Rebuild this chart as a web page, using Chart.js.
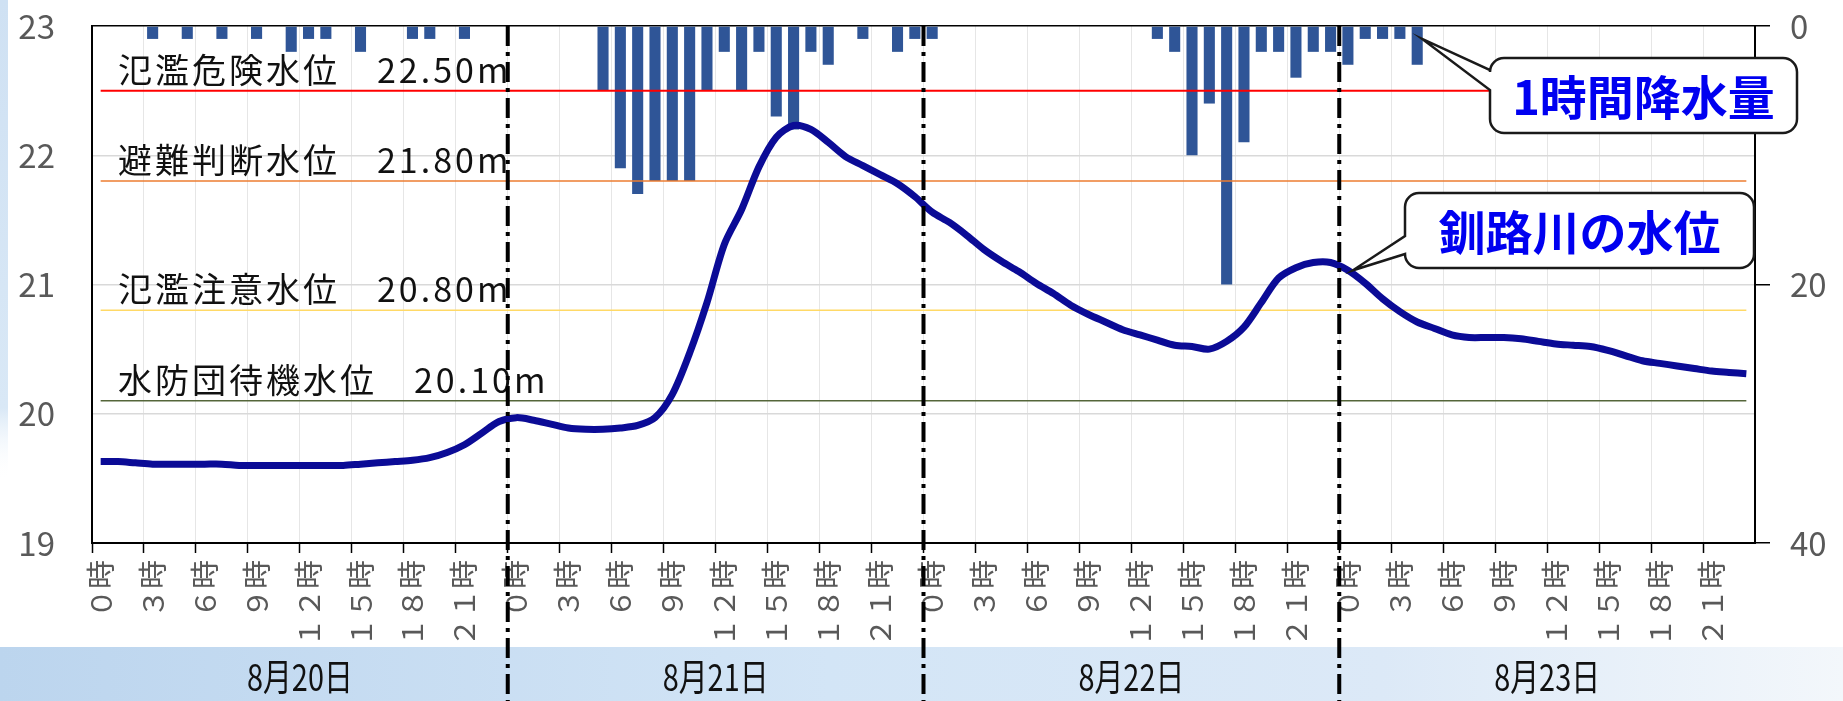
<!DOCTYPE html>
<html lang="ja">
<head>
<meta charset="utf-8">
<title>釧路川の水位と1時間降水量</title>
<script src="https://cdn.jsdelivr.net/npm/chart.js@4.4.1/dist/chart.umd.min.js"></script>
<style>
  html, body { margin: 0; padding: 0; background: #fff; }
  #wrap { width: 1843px; height: 701px; position: relative; }
</style>
</head>
<body>
<div id="wrap"><canvas id="chart" width="1843" height="701"></canvas></div>
<script>
// 日付 (4日間, 1時間ごと)
const days = ['8月20日', '8月21日', '8月22日', '8月23日'];

// 1時間降水量 (mm) 0時〜23時
const rain0820 = [0, 0, 0, 1, 0, 1, 0, 1, 0, 1, 0, 2, 1, 1, 0, 2, 0, 0, 1, 1, 0, 1, 0, 0];
const rain0821 = [0, 0, 0, 0, 0, 5, 11, 13, 12, 12, 12, 5, 2, 5, 2, 7, 8, 2, 3, 0, 1, 0, 2, 1];
const rain0822 = [1, 0, 0, 0, 0, 0, 0, 0, 0, 0, 0, 0, 0, 1, 2, 10, 6, 20, 9, 2, 2, 4, 2, 2];
const rain0823 = [3, 1, 1, 1, 3, 0, 0, 0, 0, 0, 0, 0, 0, 0, 0, 0, 0, 0, 0, 0, 0, 0, 0, 0];

// 釧路川の水位 (m) 0時〜23時
const level0820 = [19.63, 19.63, 19.62, 19.61, 19.61, 19.61, 19.61, 19.61, 19.60, 19.60, 19.60, 19.60,
                   19.60, 19.60, 19.60, 19.61, 19.62, 19.63, 19.64, 19.66, 19.70, 19.76, 19.85, 19.94];
const level0821 = [19.97, 19.95, 19.92, 19.89, 19.88, 19.88, 19.89, 19.91, 19.97, 20.15, 20.47, 20.86,
                   21.31, 21.58, 21.91, 22.14, 22.23, 22.20, 22.10, 21.99, 21.92, 21.85, 21.78, 21.68];
const level0822 = [21.56, 21.48, 21.38, 21.27, 21.18, 21.10, 21.01, 20.93, 20.84, 20.77, 20.71, 20.65,
                   20.61, 20.57, 20.53, 20.52, 20.50, 20.56, 20.67, 20.86, 21.05, 21.13, 21.17, 21.17];
const level0823 = [21.11, 21.01, 20.89, 20.79, 20.71, 20.66, 20.61, 20.59, 20.59, 20.59, 20.58, 20.56,
                   20.54, 20.53, 20.52, 20.49, 20.45, 20.41, 20.39, 20.37, 20.35, 20.33, 20.32, 20.31];

// 基準水位
const thresholdNames = ['氾濫危険水位', '避難判断水位', '氾濫注意水位', '水防団待機水位'];
const thresholdValues = [22.50, 21.80, 20.80, 20.10];
const thresholdColors = ['#ff0000', '#ed7d31', '#ffd966', '#55663a'];

// 軸の範囲
const levelMin = 19, levelMax = 23, levelStep = 1;
const rainMin = 0, rainMax = 40, rainStep = 20;

// build tables for the library
const rain = rain0820.concat(rain0821, rain0822, rain0823).map(v => v || null);
const level = level0820.concat(level0821, level0822, level0823);
// hour labels every 3 hours; the original uses wide (full-width) digits
const wide = s => String(s).replace(/[0-9]/g, c => String.fromCharCode(c.charCodeAt(0) + 0xFEE0));
const hourLabels = days.flatMap(() => Array.from({ length: 24 }, (_, h) => h % 3 === 0 ? wide(h) + '時' : ''));

const FONT = '"Noto Sans CJK JP", "Noto Sans", sans-serif';
Chart.defaults.font.family = FONT;

const thresholdSets = thresholdValues.map((v, k) => ({
    type: 'line',
    label: thresholdNames[k],
    data: hourLabels.map(() => v),
    borderColor: thresholdColors[k],
    borderWidth: k === 0 ? 2 : 1.5,
    pointRadius: 0,
    yAxisID: 'y',
    order: 1
}));

// background, day labels and dividers, threshold labels, callouts
const decorations = {
    id: 'decorations',
    beforeDraw(chart) {
        const { ctx, width, height } = chart;
        ctx.save();
        ctx.fillStyle = '#ffffff';
        ctx.fillRect(0, 0, width, height);
        // left strip of the slide background
        let g = ctx.createLinearGradient(0, 0, 0, 480);
        g.addColorStop(0, '#cfe1f3');
        g.addColorStop(0.85, '#d9e8f6');
        g.addColorStop(1, 'rgba(255,255,255,0)');
        ctx.fillStyle = g;
        ctx.fillRect(0, 0, 8, 480);
        // bottom band
        g = ctx.createLinearGradient(0, 0, width, 0);
        g.addColorStop(0, '#bcd5ee');
        g.addColorStop(0.45, '#d3e5f6');
        g.addColorStop(0.75, '#dce9f7');
        g.addColorStop(1, '#f3f7fb');
        ctx.fillStyle = g;
        ctx.fillRect(0, 647, width, height - 647);
        ctx.restore();
    },
    afterDraw(chart) {
        const { ctx, chartArea, height } = chart;
        const xs = chart.scales.x, xd = chart.scales.xDay, ys = chart.scales.y, y2 = chart.scales.y2;
        ctx.save();

        // threshold labels
        ctx.font = '34px ' + FONT;
        ctx.fillStyle = '#111111';
        ctx.textAlign = 'left';
        ctx.textBaseline = 'alphabetic';
        if ('letterSpacing' in ctx) ctx.letterSpacing = '3px';
        thresholdValues.forEach((v, k) => {
            ctx.fillText(thresholdNames[k] + '\u3000' + v.toFixed(2) + 'm', chartArea.left + 26, ys.getPixelForValue(v) - 8);
        });
        if ('letterSpacing' in ctx) ctx.letterSpacing = '0px';

        // day labels (narrow lettering as in the original)
        ctx.font = '37px ' + FONT;
        ctx.textAlign = 'center';
        ctx.textBaseline = 'middle';
        days.forEach((d, i) => {
            ctx.save();
            ctx.translate(xd.getPixelForValue(i), xd.top + 32);
            ctx.scale(0.78, 1);
            ctx.fillText(d, 0, 0);
            ctx.restore();
        });

        // day dividers (dash-dot)
        ctx.strokeStyle = '#000000';
        ctx.lineWidth = 4;
        ctx.setLineDash([20, 6, 4, 6]);
        for (let d = 1; d < days.length; d++) {
            const i = d * 24;
            const x = (xs.getPixelForValue(i - 1) + xs.getPixelForValue(i)) / 2;
            ctx.beginPath();
            ctx.moveTo(x, chartArea.top);
            ctx.lineTo(x, height);
            ctx.stroke();
        }
        ctx.setLineDash([]);

        // callouts
        const rainTip = { x: xs.getPixelForValue(76) + 5, y: y2.getPixelForValue(1) };
        const levelTip = { x: xs.getPixelForValue(72) + 5, y: ys.getPixelForValue(level[72]) };
        drawCallout(ctx, { x: 1490, y: 58, w: 307, h: 75 }, rainTip, 70, 90, '1時間降水量');
        drawCallout(ctx, { x: 1405, y: 193, w: 349, h: 75 }, levelTip, 236, 254, '釧路川の水位');
        ctx.restore();
    }
};

function drawCallout(ctx, b, tip, baseTop, baseBottom, text) {
    const r = 14;
    ctx.beginPath();
    ctx.moveTo(b.x + r, b.y);
    ctx.lineTo(b.x + b.w - r, b.y);
    ctx.arcTo(b.x + b.w, b.y, b.x + b.w, b.y + r, r);
    ctx.lineTo(b.x + b.w, b.y + b.h - r);
    ctx.arcTo(b.x + b.w, b.y + b.h, b.x + b.w - r, b.y + b.h, r);
    ctx.lineTo(b.x + r, b.y + b.h);
    ctx.arcTo(b.x, b.y + b.h, b.x, b.y + b.h - r, r);
    ctx.lineTo(b.x, baseBottom);
    ctx.lineTo(tip.x, tip.y);
    ctx.lineTo(b.x, baseTop);
    ctx.lineTo(b.x, b.y + r);
    ctx.arcTo(b.x, b.y, b.x + r, b.y, r);
    ctx.closePath();
    ctx.fillStyle = '#ffffff';
    ctx.fill();
    ctx.lineWidth = 2.5;
    ctx.strokeStyle = '#1a1a1a';
    ctx.stroke();
    ctx.font = 'bold 47px ' + FONT;
    ctx.fillStyle = '#0000f0';
    ctx.textAlign = 'center';
    ctx.textBaseline = 'middle';
    ctx.fillText(text, b.x + b.w / 2, b.y + b.h / 2 + 2);
}

// keep the plot box fixed: no extra room for tick label overhang
const noPad = s => { s.paddingTop = 0; s.paddingBottom = 0; s.paddingLeft = 0; s.paddingRight = 0; };

const ctx = document.getElementById('chart').getContext('2d');
const chart = new Chart(ctx, {
    data: {
        labels: hourLabels,
        datasets: [
            {
                type: 'line',
                label: '釧路川の水位',
                data: level,
                borderColor: '#0b0b96',
                borderWidth: 7,
                pointRadius: 0,
                tension: 0.3,
                yAxisID: 'y',
                order: 0
            },
            ...thresholdSets,
            {
                type: 'bar',
                label: '1時間降水量',
                data: rain,
                backgroundColor: '#2f5597',
                barPercentage: 0.64,
                categoryPercentage: 1,
                yAxisID: 'y2',
                order: 2
            }
        ]
    },
    options: {
        responsive: false,
        animation: false,
        devicePixelRatio: 1,
        layout: { padding: { top: 26, left: 0, right: 0, bottom: 0 } },
        plugins: {
            legend: { display: false },
            tooltip: { enabled: false }
        },
        scales: {
            x: {
                type: 'category',
                position: 'bottom',
                weight: 0,
                offset: true,
                grid: {
                    offset: true,
                    color: c => c.index % 3 === 0 ? '#e6e6e6' : 'rgba(0,0,0,0)',
                    tickColor: c => c.index % 3 === 0 ? '#000000' : 'rgba(0,0,0,0)',
                    lineWidth: 1,
                    tickWidth: 1.5,
                    tickLength: 10
                },
                border: { display: true, color: '#000000', width: 2 },
                ticks: {
                    autoSkip: false,
                    minRotation: 90,
                    maxRotation: 90,
                    padding: 7,
                    color: '#595959',
                    font: { size: 29 }
                },
                afterFit: s => { s.height = 102; noPad(s); }
            },
            xDay: {
                type: 'category',
                labels: days,
                position: 'bottom',
                weight: 1,
                offset: true,
                grid: { display: false },
                border: { display: false },
                ticks: { display: false },
                afterFit: s => { s.height = 56; noPad(s); }
            },
            y: {
                position: 'left',
                min: levelMin,
                max: levelMax,
                ticks: { stepSize: levelStep, padding: 37, color: '#595959', font: { size: 33 } },
                grid: {
                    color: c => (c.tick && (c.tick.value === levelMin || c.tick.value === levelMax)) ? 'rgba(0,0,0,0)' : '#d9d9d9',
                    lineWidth: 1.5,
                    drawTicks: false
                },
                border: { color: '#000000', width: 2 },
                afterFit: s => { s.width = 92; noPad(s); }
            },
            y2: {
                position: 'right',
                reverse: true,
                min: rainMin,
                max: rainMax,
                ticks: { stepSize: rainStep, padding: 20, color: '#595959', font: { size: 33 } },
                grid: {
                    color: c => (c.tick && c.tick.value === rainMin) ? '#000000' : 'rgba(0,0,0,0)',
                    lineWidth: 1.5,
                    tickColor: '#000000',
                    tickWidth: 1.5,
                    tickLength: 15
                },
                border: { color: '#000000', width: 2 },
                afterFit: s => { s.width = 88; noPad(s); }
            }
        }
    },
    plugins: [decorations]
});
</script>
</body>
</html>
